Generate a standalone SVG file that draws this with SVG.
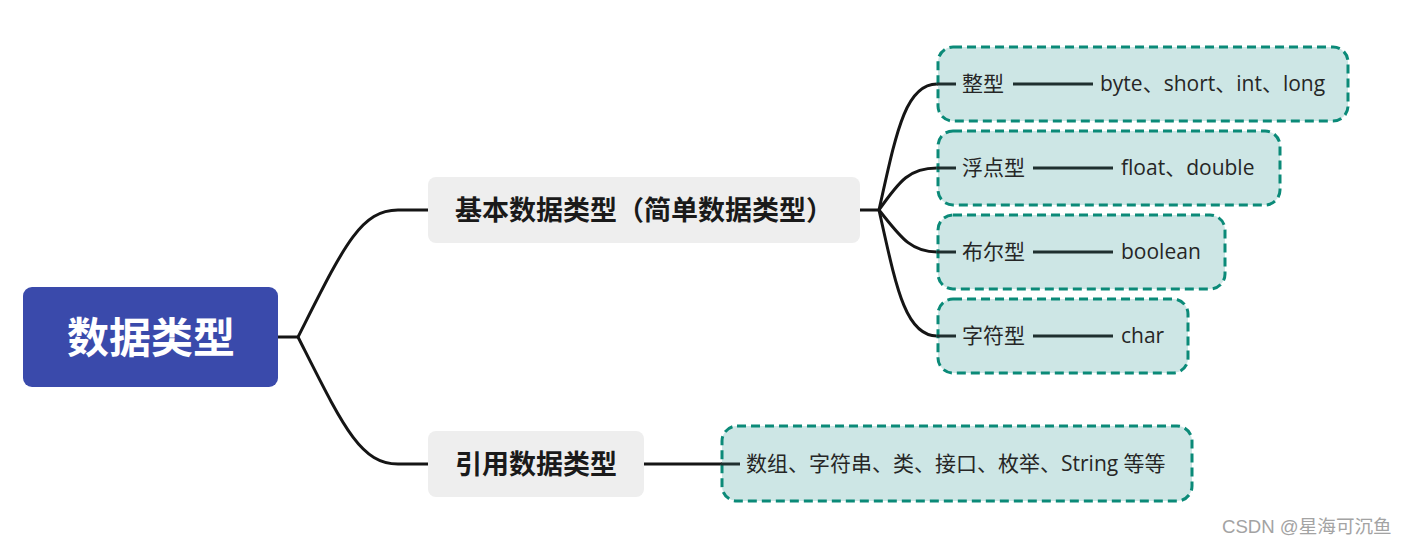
<svg xmlns="http://www.w3.org/2000/svg" width="1409" height="546" viewBox="0 0 1409 546">
<style>
.conn{fill:none;stroke:#151515;stroke-width:3;stroke-linecap:round}
.inner{stroke:#1f2f2f;stroke-width:3}
.leaf{fill:#cde6e5;stroke:#0b8a78;stroke-width:3;stroke-dasharray:9 5}
.mid{fill:#eeeeee}
.t{font-family:"Noto Sans CJK SC","Noto Sans",sans-serif;fill:#262626}
.leaft{font-family:"Open Sans","Noto Sans CJK SC",sans-serif;font-size:21px}
.midt{font-size:27px;font-weight:bold;fill:#1a1a1a}
</style>
<rect width="1409" height="546" fill="#ffffff"/>
<g id="connectors">
<path class="conn" d="M278,337 L298,337 C343,248 360,210 398,210 L428,210"/>
<path class="conn" d="M298,337 C343,426 360,464 398,464 L428,464"/>
<path class="conn" d="M860,210 L879,210"/>
<path class="conn" d="M879,210 C896,134 905,84 937,84"/>
<path class="conn" d="M879,210 C900,180 910,168 937,168"/>
<path class="conn" d="M879,210 C900,236 910,252 937,252"/>
<path class="conn" d="M879,210 C896,286 905,336 937,336"/>
<path class="conn" d="M644,464 L722,464"/>
</g>
<g id="root">
<rect x="23" y="287" width="255" height="100" rx="9" fill="#3a4aab"/>
<text x="151" y="353" text-anchor="middle" font-family="Noto Sans CJK SC, sans-serif" font-size="42" font-weight="bold" fill="#ffffff">数据类型</text>
</g>
<g id="basic">
<rect class="mid" x="428" y="177" width="432" height="66" rx="8"/>
<text class="t midt" x="455" y="220">基本数据类型（简单数据类型）</text>
</g>
<g id="ref">
<rect class="mid" x="428" y="431" width="216" height="66" rx="8"/>
<text class="t midt" x="455" y="474">引用数据类型</text>
</g>
<g id="int">
<rect class="leaf" x="938" y="47" width="410" height="74" rx="15"/>
<line class="inner" x1="937" y1="84" x2="956" y2="84"/>
<text class="t leaft" x="962" y="91">整型</text>
<line class="inner" x1="1013" y1="84" x2="1093" y2="84"/>
<text class="t leaft" x="1100" y="91">byte、short、int、long</text>
</g>
<g id="float">
<rect class="leaf" x="938" y="131" width="342" height="74" rx="15"/>
<line class="inner" x1="937" y1="168" x2="956" y2="168"/>
<text class="t leaft" x="962" y="175">浮点型</text>
<line class="inner" x1="1033" y1="168" x2="1113" y2="168"/>
<text class="t leaft" x="1121" y="175">float、double</text>
</g>
<g id="bool">
<rect class="leaf" x="938" y="215" width="287" height="74" rx="15"/>
<line class="inner" x1="937" y1="252" x2="956" y2="252"/>
<text class="t leaft" x="962" y="259">布尔型</text>
<line class="inner" x1="1033" y1="252" x2="1113" y2="252"/>
<text class="t leaft" x="1121" y="259">boolean</text>
</g>
<g id="char">
<rect class="leaf" x="938" y="299" width="250" height="74" rx="15"/>
<line class="inner" x1="937" y1="336" x2="956" y2="336"/>
<text class="t leaft" x="962" y="343">字符型</text>
<line class="inner" x1="1033" y1="336" x2="1113" y2="336"/>
<text class="t leaft" x="1121" y="343">char</text>
</g>
<g id="reftypes">
<rect class="leaf" x="722" y="426" width="470" height="75" rx="15"/>
<line class="inner" x1="721" y1="464" x2="740" y2="464"/>
<text class="t leaft" x="746" y="471">数组、字符串、类、接口、枚举、String 等等</text>
</g>
<text x="1222" y="533" font-family="Liberation Sans, Noto Sans CJK SC, sans-serif" font-size="18.6" fill="#a3a3a3">CSDN @星海可沉鱼</text>
</svg>
